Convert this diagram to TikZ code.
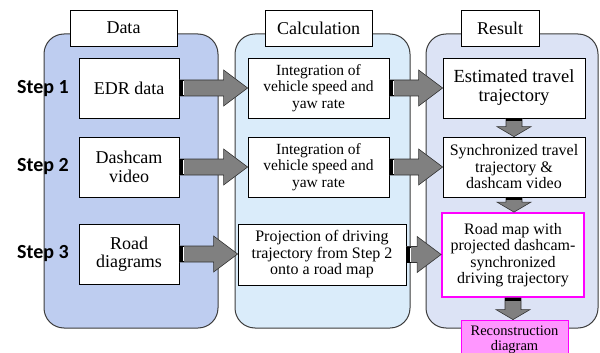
\documentclass[tikz,border=0pt]{standalone}
\usepackage{fontspec}
\setmainfont{Liberation Serif}
\newfontfamily\stepfont{Carlito}
\usetikzlibrary{calc}
\definecolor{datafill}{RGB}{190,205,240}
\definecolor{calcfill}{RGB}{218,236,250}
\definecolor{resfill}{RGB}{220,227,245}
\definecolor{arrowgray}{RGB}{128,128,128}
\definecolor{mag}{RGB}{255,0,255}
\definecolor{magfill}{RGB}{255,150,255}
\definecolor{panelline}{RGB}{60,60,60}
\tikzset{
  panel/.style={draw=panelline, line width=1pt, rounded corners=20pt},
  box/.style={draw=black, fill=white, line width=0.7pt, align=center, inner sep=0pt},
  hdr/.style={box, font=\fontsize{18}{19}\selectfont},
  steplabel/.style={anchor=west, inner sep=0pt, font=\stepfont\bfseries\fontsize{20}{22}\selectfont},
  blockarrow/.style={draw=black!80, fill=arrowgray, line width=0.6pt, line join=miter},
}
\newcommand\hblock[2]{%
  \path let \p1=(#1.east), \p2=(#2.west) in
    [blockarrow] (\x1,\y1+8pt) -- (\x2-24pt,\y1+8pt) -- (\x2-24pt,\y1+18pt) -- (\x2,\y1)
      -- (\x2-24pt,\y1-18pt) -- (\x2-24pt,\y1-8pt) -- (\x1,\y1-8pt) -- cycle;
  \path let \p1=(#1.east) in
    [fill=black] (\x1,\y1+8pt) rectangle (\x1+5pt,\y1-8pt);
  \path let \p1=(#1.east) in
    [draw=white, line width=0.4pt] (\x1+3.5pt,\y1+7pt) -- (\x1+3.5pt,\y1-7pt);
}
\newcommand\vblock[2]{%
  \path let \p1=(#1.south), \p2=(#2.north) in
    [blockarrow] (\x1-8pt,\y1) -- (\x1-8pt,\y2+10pt) -- (\x1-17pt,\y2+10pt) -- (\x1,\y2)
      -- (\x1+17pt,\y2+10pt) -- (\x1+8pt,\y2+10pt) -- (\x1+8pt,\y1) -- cycle;
  \path let \p1=(#1.south) in
    [fill=black] (\x1-8pt,\y1) rectangle (\x1+8pt,\y1-3pt);
}
\begin{document}
\begin{tikzpicture}[x=1pt,y=-1pt]
\clip (0,0) rectangle (600,353);
\useasboundingbox (0,0) rectangle (600,353);
% panels
\draw[panel, fill=datafill] (44,34) rectangle (218,328);
\draw[panel, fill=calcfill] (235,34) rectangle (410,328);
\draw[panel, fill=resfill] (426,34) rectangle (598,328);
% headers
\node[hdr, minimum width=107pt, minimum height=36pt] (hdata) at (123.5,28) {Data};
\node[hdr, minimum width=107pt, minimum height=36pt] (hcalc) at (318.5,28) {Calculation};
\node[hdr, minimum width=78pt, minimum height=36pt] (hres) at (500,28) {Result};
% step labels
\node[steplabel] (s1) at (17,89) {Step 1};
\node[steplabel] (s2) at (17,167) {Step 2};
\node[steplabel] (s3) at (17,254) {Step 3};
% data column
\node[box, minimum width=100pt, minimum height=60pt, font=\fontsize{18}{19}\selectfont] (edr) at (129,88) {EDR data};
\node[box, minimum width=100pt, minimum height=60pt, font=\fontsize{18}{19}\selectfont] (dash) at (129,167) {Dashcam\\video};
\node[box, minimum width=100pt, minimum height=60pt, font=\fontsize{18}{18.5}\selectfont] (road) at (129,254) {Road\\diagrams};
% calculation column
\node[box, minimum width=141pt, minimum height=60pt, font=\fontsize{15.5}{16.5}\selectfont] (int1) at (318.5,88) {Integration of\\vehicle speed and\\yaw rate};
\node[box, minimum width=141pt, minimum height=60pt, font=\fontsize{15.5}{16.5}\selectfont] (int2) at (318.5,167) {Integration of\\vehicle speed and\\yaw rate};
\node[box, minimum width=168pt, minimum height=61pt, font=\fontsize{16}{16.5}\selectfont] (proj) at (322,254.5) {Projection of driving\\trajectory from Step 2\\onto a road map};
% result column
\node[box, minimum width=142pt, minimum height=60pt, font=\fontsize{18.5}{19}\selectfont] (est) at (514,88) {Estimated travel\\trajectory};
\node[box, minimum width=142pt, minimum height=60pt, font=\fontsize{16}{16.5}\selectfont] (sync) at (514,167) {Synchronized travel\\trajectory \&\\dashcam video};
\node[box, draw=mag, line width=1.8pt, minimum width=142pt, minimum height=84pt, font=\fontsize{16}{16.5}\selectfont] (rmap) at (513,255) {Road map with\\projected dashcam-\\synchronized\\driving trajectory};
\node[box, draw=mag, fill=magfill, line width=0.8pt, minimum width=107pt, minimum height=40pt, font=\fontsize{14.5}{15}\selectfont] (recon) at (514.5,340) {Reconstruction\\diagram};
% arrows
\hblock{edr}{int1}
\hblock{dash}{int2}
\hblock{road}{proj}
\hblock{int1}{est}
\hblock{int2}{sync}
\hblock{proj}{rmap}
\vblock{est}{sync}
\vblock{sync}{rmap}
\vblock{rmap}{recon}
\end{tikzpicture}
\end{document}
